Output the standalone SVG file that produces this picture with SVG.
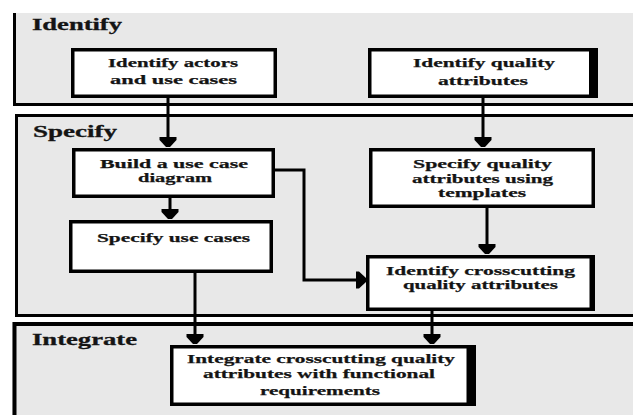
<svg xmlns="http://www.w3.org/2000/svg" width="633" height="415" viewBox="0 0 633 415">
  <style>
    .panel { fill: #e8e8e8; }
    .edge { stroke: #000; stroke-width: 3; fill: none; }
    .box { fill: #fff; stroke: #000; stroke-width: 3.5; }
    .shade { fill: #000; }
    .title { font-family: "Liberation Serif", "DejaVu Serif", serif; font-weight: bold; font-size: 17px; fill: #141414; stroke: #141414; stroke-width: 0.3; }
    .label { font-family: "Liberation Serif", "DejaVu Serif", serif; font-weight: bold; font-size: 13.5px; fill: #141414; stroke: #141414; stroke-width: 0.25; text-anchor: middle; }
    .link { stroke: #000; stroke-width: 3; fill: none; }
  </style>
  <defs>
    <marker id="head" markerUnits="userSpaceOnUse" markerWidth="14" markerHeight="18" viewBox="0 -9 10 18" refX="10" refY="0" orient="auto">
      <path d="M0,-8.5 L3,-8.5 L10,-2 L10,2 L3,8.5 L0,8.5 Z" fill="#000"/>
    </marker>
  </defs>

  <rect width="633" height="415" fill="#fff"/>

  <!-- Phase bands -->
  <g id="phase-identify">
    <rect class="panel" x="13" y="13" width="620" height="93"/>
    <path class="edge" d="M14.5,13 V104.5 H633"/>
    <text class="title" x="32" y="30" textLength="90" lengthAdjust="spacingAndGlyphs">Identify</text>
  </g>
  <g id="phase-specify">
    <rect class="panel" x="15" y="114" width="618" height="203"/>
    <path class="edge" d="M633,115.5 H16.5 V315.5 H633"/>
    <text class="title" x="33" y="137" textLength="84" lengthAdjust="spacingAndGlyphs">Specify</text>
  </g>
  <g id="phase-integrate">
    <rect class="panel" x="12" y="322" width="621" height="93"/>
    <path d="M633,324 H14.5 V415" stroke="#000" stroke-width="4" fill="none"/>
    <text class="title" x="32" y="345" textLength="105" lengthAdjust="spacingAndGlyphs">Integrate</text>
  </g>

  <!-- Connectors -->
  <g id="connectors">
    <path class="link" d="M168,98 V147" marker-end="url(#head)"/>
    <path class="link" d="M483,98 V147" marker-end="url(#head)"/>
    <path class="link" d="M170,198 V219" marker-end="url(#head)"/>
    <path class="link" d="M487,208 V254" marker-end="url(#head)"/>
    <path class="link" d="M275,170 H304 V280 H366" marker-end="url(#head)"/>
    <path class="link" d="M195,273 V344" marker-end="url(#head)"/>
    <path class="link" d="M432,311 V344" marker-end="url(#head)"/>
  </g>

  <!-- Activities -->
  <g id="identify-actors">
    <rect class="box" x="72.75" y="49.75" width="202.5" height="46.5"/>
    <text class="label" x="173" y="67" textLength="130" lengthAdjust="spacingAndGlyphs">Identify actors</text>
    <text class="label" x="173.5" y="84" textLength="127" lengthAdjust="spacingAndGlyphs">and use cases</text>
  </g>
  <g id="identify-quality">
    <rect class="shade" x="589" y="48" width="9" height="50"/>
    <rect class="box" x="369.75" y="49.75" width="221" height="46.5"/>
    <text class="label" x="484" y="67" textLength="142" lengthAdjust="spacingAndGlyphs">Identify quality</text>
    <text class="label" x="483" y="85" textLength="90" lengthAdjust="spacingAndGlyphs">attributes</text>
  </g>
  <g id="build-diagram">
    <rect class="box" x="73.75" y="149.75" width="199.5" height="46.5"/>
    <text class="label" x="174" y="168" textLength="148" lengthAdjust="spacingAndGlyphs">Build a use case</text>
    <text class="label" x="175" y="182" textLength="74" lengthAdjust="spacingAndGlyphs">diagram</text>
  </g>
  <g id="specify-use-cases">
    <rect class="box" x="70.75" y="221.75" width="200.5" height="49.5"/>
    <text class="label" x="173.5" y="242" textLength="153" lengthAdjust="spacingAndGlyphs">Specify use cases</text>
  </g>
  <g id="specify-quality">
    <rect class="box" x="370.75" y="149.75" width="222.5" height="56.5"/>
    <text class="label" x="482.5" y="168" textLength="139" lengthAdjust="spacingAndGlyphs">Specify quality</text>
    <text class="label" x="482.5" y="183" textLength="141" lengthAdjust="spacingAndGlyphs">attributes using</text>
    <text class="label" x="482" y="197" textLength="88" lengthAdjust="spacingAndGlyphs">templates</text>
  </g>
  <g id="identify-crosscutting">
    <rect class="shade" x="589" y="255" width="6" height="56"/>
    <rect class="box" x="367.75" y="256.75" width="223.5" height="52.5"/>
    <text class="label" x="480.5" y="275" textLength="189" lengthAdjust="spacingAndGlyphs">Identify crosscutting</text>
    <text class="label" x="480.5" y="289" textLength="155" lengthAdjust="spacingAndGlyphs">quality attributes</text>
  </g>
  <g id="integrate-requirements">
    <rect class="shade" x="466" y="345" width="10" height="61"/>
    <rect class="box" x="171.75" y="346.75" width="296.5" height="57.5"/>
    <text class="label" x="321" y="363" textLength="268" lengthAdjust="spacingAndGlyphs">Integrate crosscutting quality</text>
    <text class="label" x="319" y="378" textLength="232" lengthAdjust="spacingAndGlyphs">attributes with functional</text>
    <text class="label" x="320" y="395" textLength="120" lengthAdjust="spacingAndGlyphs">requirements</text>
  </g>
</svg>
